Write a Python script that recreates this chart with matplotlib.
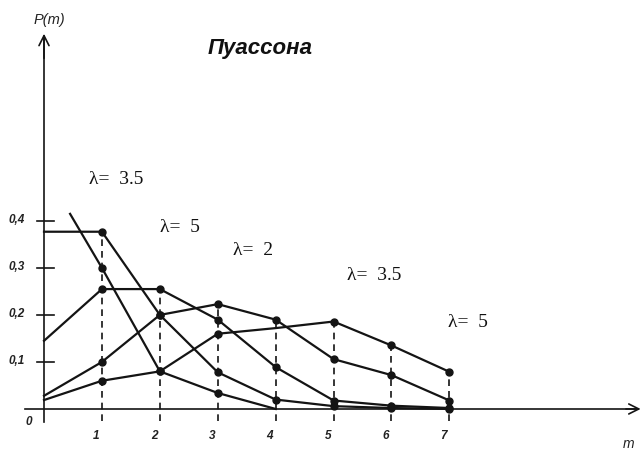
import matplotlib
matplotlib.use("Agg")
import matplotlib.pyplot as plt
import numpy as np

# ---- data ----
m = [0, 1, 2, 3, 4, 5, 6, 7]
m_l05 = [0.45, 1, 2, 3, 4]
p_l05 = [0.415, 0.30, 0.08, 0.034, 0.0]
p_l1 = [0.377, 0.377, 0.20, 0.078, 0.02, 0.006, 0.002, 0.0]
p_l2 = [0.145, 0.255, 0.255, 0.19, 0.089, 0.018, 0.007, 0.002]
p_l35 = [0.028, 0.10, 0.20, 0.223, 0.19, 0.106, 0.072, 0.018]
p_l5 = [0.019, 0.06, 0.08, 0.16, 0.172, 0.186, 0.135, 0.079]

y_ticks = [0.1, 0.2, 0.3, 0.4]
y_tick_labels = ["0,1", "0,2", "0,3", "0,4"]
x_ticks = [1, 2, 3, 4, 5, 6, 7]
x_tick_labels = ["1", "2", "3", "4", "5", "6", "7"]
title = "Пуассона"
lambda_labels = ["λ=  3.5", "λ=  5", "λ=  2", "λ=  3.5", "λ=  5"]
lambda_label_pos = [(1.24, 0.491), (2.35, 0.389), (3.61, 0.340), (5.70, 0.287), (7.32, 0.185)]

ink = "#141414"

fig = plt.figure(figsize=(6.44, 4.52), dpi=100)
ax = fig.add_axes([0, 0, 1, 1])
ax.set_xlim(-0.76, 10.36)
ax.set_ylim(-0.0894, 0.872)
for s in ["top", "right", "bottom", "left"]:
    ax.spines[s].set_visible(False)
ax.set_xticks([])
ax.set_yticks([])

# axes with arrows
ax.plot([-0.33, 10.25], [0, 0], color=ink, lw=1.2)
ax.plot([0, 0], [-0.028, 0.79], color=ink, lw=1.2)
ax.annotate("", xy=(10.35, 0), xytext=(10.0, 0),
            arrowprops=dict(arrowstyle="->", color=ink, lw=1.2, mutation_scale=18))
ax.annotate("", xy=(0, 0.804), xytext=(0, 0.74),
            arrowprops=dict(arrowstyle="->", color=ink, lw=1.2, mutation_scale=18))

tick_font = dict(fontstyle="italic", fontweight="bold", family="Liberation Sans", color="#222")

# y ticks
for yt, lab in zip(y_ticks, y_tick_labels):
    ax.plot([-0.12, 0.17], [yt, yt], color=ink, lw=1.2)
    ax.text(-0.48, yt + 0.005, lab, ha="center", va="center", fontsize=8.5, **tick_font)
ax.text(-0.26, -0.025, "0", ha="center", va="center", fontsize=8.5, **tick_font)

# x tick labels
for xt, lab in zip(x_ticks, x_tick_labels):
    ax.text(xt - 0.1, -0.055, lab, ha="center", va="center", fontsize=8.5, **tick_font)
ax.text(10.1, -0.072, "m", ha="center", va="center", fontsize=10,
        fontstyle="italic", family="Liberation Sans", color="#222")

# dashed verticals up to the highest point at each m
all_series = np.array([p_l1, p_l2, p_l35, p_l5])
tops = all_series.max(axis=0)
for xi, top in zip(m[1:], tops[1:]):
    ax.plot([xi, xi], [-0.025, top], color=ink, lw=1.2, ls=(0, (4, 3)))

# curves
kw = dict(color=ink, lw=1.6, marker="o", markersize=5)
ax.plot(m_l05, p_l05, markevery=[1, 2, 3], **kw)
ax.plot(m, p_l1, markevery=list(range(1, 8)), **kw)
ax.plot(m, p_l2, markevery=list(range(1, 8)), **kw)
ax.plot(m, p_l35, markevery=list(range(1, 8)), **kw)
ax.plot(m, p_l5, markevery=[1, 2, 3, 5, 6, 7], **kw)

# texts
ax.text(0.09, 0.829, "P(m)", ha="center", va="center", fontsize=10.5,
        fontstyle="italic", family="Liberation Sans", color="#222")
ax.text(3.73, 0.768, title, ha="center", va="center", fontsize=16,
        fontstyle="italic", fontweight="bold", family="Liberation Sans", color="#111")
for lab, (lx, ly) in zip(lambda_labels, lambda_label_pos):
    ax.text(lx, ly, lab, ha="center", va="center", fontsize=14,
            family="Liberation Serif", color="#111")

fig.savefig("out.png", dpi=100, facecolor="white")
